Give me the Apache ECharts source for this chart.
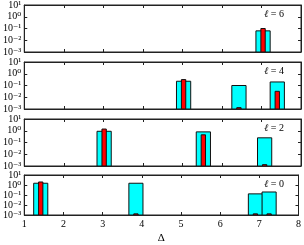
<!DOCTYPE html>
<html><head><meta charset="utf-8">
<script src="https://cdn.jsdelivr.net/npm/echarts@6/dist/echarts.min.js"></script>
<style>html,body{margin:0;padding:0;background:#fff}#c{width:304px;height:245px}</style>
</head><body><div id="c"></div>
<script>
// Panels from top to bottom: l = 6, 4, 2, 0
const panelLabels = ['6', '4', '2', '0'];
const l6Delta = [7.04];
const l6Cyan = [0.063];
const l6Red = [0.1];
const l4Delta = [5.03, 6.43, 7.40];
const l4Cyan = [0.23, 0.10, 0.20];
const l4Red = [0.32, 0.0013, 0.032];
const l2Delta = [3.02, 5.53, 7.08];
const l2Cyan = [0.9, 0.8, 0.25];
const l2Red = [1.4, 0.45, 0.0013];
const l0Delta = [1.42, 3.85, 6.90, 7.25];
const l0Cyan = [1.5, 1.5, 0.13, 0.20];
const l0Red = [2.0, 0.0013, 0.0013, 0.0013];
const xTicks = [1, 2, 3, 4, 5, 6, 7, 8];
const yTicks = [0.001, 0.01, 0.1, 1, 10];
const yTickLabels = ['10⁻³', '10⁻²', '10⁻¹', '10⁰', '10¹'];
const yMin = 0.001, yMax = 10;

const panels = [
  [l6Delta, l6Cyan, l6Red],
  [l4Delta, l4Cyan, l4Red],
  [l2Delta, l2Cyan, l2Red],
  [l0Delta, l0Cyan, l0Red]
];
const tops = [5, 62, 119, 175];
const H = 47;
const FONT = '"Liberation Serif", "DejaVu Serif", serif';

const grids = [], xAxes = [], yAxes = [], series = [], graphics = [];
function barSeries(gi, xs, vs, w, color) {
  return {
    type: 'custom', xAxisIndex: gi * 2, yAxisIndex: gi * 2,
    data: xs.map((x, i) => [x, vs[i]]),
    clip: true,
    renderItem: function (params, api) {
      const x = api.value(0), v = api.value(1);
      const p0 = api.coord([x - w / 2, yMin]);
      const p1 = api.coord([x + w / 2, v]);
      return { type: 'rect',
        shape: { x: p0[0], y: p1[1], width: p1[0] - p0[0], height: p0[1] - p1[1] },
        style: { fill: color, stroke: '#111', lineWidth: 1 } };
    }
  };
}
panels.forEach((p, gi) => {
  const last = gi === panels.length - 1;
  grids.push({ left: 22, right: 3, top: tops[gi], height: H, show: true, borderColor: '#222', borderWidth: 1, backgroundColor: 'transparent' });
  const xBase = { type: 'value', gridIndex: gi, min: xTicks[0], max: xTicks[xTicks.length - 1], interval: 1,
    splitLine: { show: false }, axisLine: { show: true, lineStyle: { color: '#222' } },
    axisTick: { show: true, inside: true, length: 3, lineStyle: { color: '#222' } } };
  xAxes.push(Object.assign({}, xBase, { position: 'bottom',
    axisLabel: { show: last, fontFamily: FONT, fontSize: 10, color: '#000', margin: 4, hideOverlap: false,
      showMinLabel: true, showMaxLabel: true },
    name: last ? 'Δ' : '', nameLocation: 'middle', nameGap: 18,
    nameTextStyle: { fontFamily: FONT, fontSize: 11, color: '#000' } }));
  xAxes.push(Object.assign({}, xBase, { position: 'top', axisLabel: { show: false } }));
  const yBase = { type: 'log', logBase: 10, gridIndex: gi, min: yMin, max: yMax, splitNumber: 4,
    splitLine: { show: false }, axisLine: { show: true, lineStyle: { color: '#222' } },
    axisTick: { show: true, inside: true, length: 3, customValues: yTicks, lineStyle: { color: '#222' } } };
  yAxes.push(Object.assign({}, yBase, { position: 'left',
    axisLabel: { show: true, margin: 3, color: '#000', customValues: yTicks, hideOverlap: false, interval: 0,
      showMinLabel: true, showMaxLabel: true,
      fontFamily: FONT, fontSize: 10, lineHeight: 9,
      formatter: function (v) {
        const e = Math.round(Math.log10(v));
        return yTickLabels[e + 3];
      } } }));
  yAxes.push(Object.assign({}, yBase, { position: 'right', axisLabel: { show: false } }));
  series.push(barSeries(gi, p[0], p[1], 0.36, '#00ffff'));
  series.push(barSeries(gi, p[0], p[2], 0.11, '#ff0000'));
  graphics.push({ type: 'text', right: 20, top: tops[gi] + 4,
    style: { text: '{i|ℓ} = ' + panelLabels[gi], font: '10px ' + FONT, fill: '#000',
      rich: { i: { fontFamily: '"DejaVu Serif", serif', fontStyle: 'italic', fontSize: 10 } } } });
});

const chart = echarts.init(document.getElementById('c'), null, { renderer: 'canvas' });
chart.setOption({
  animation: false,
  grid: grids, xAxis: xAxes, yAxis: yAxes, series: series, graphic: graphics
});
</script>
</body></html>
